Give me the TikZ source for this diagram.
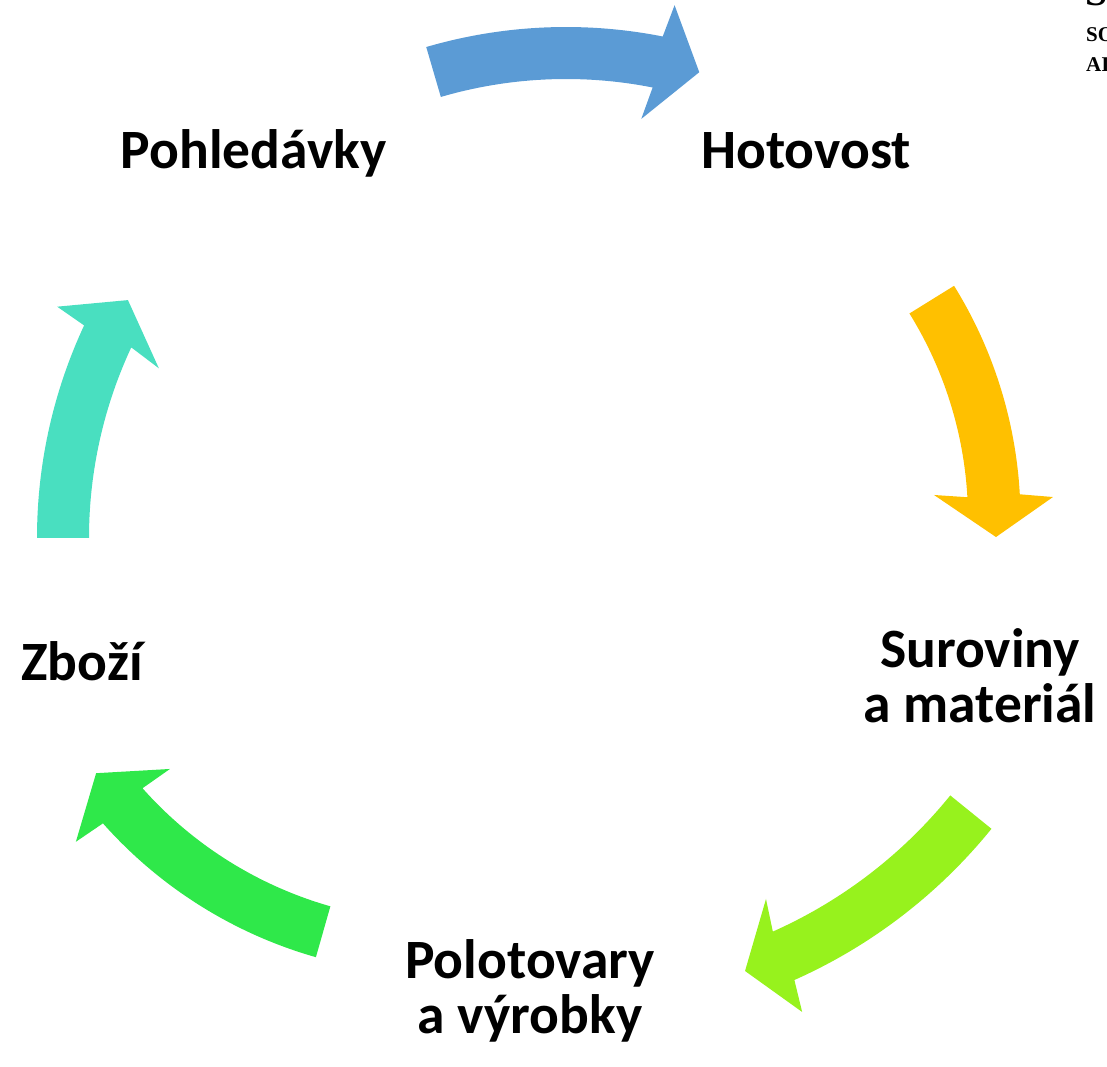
\documentclass[tikz,border=0pt]{standalone}
\usepackage{fontspec}
\setmainfont{Carlito}
\newfontfamily\slabfont{Liberation Serif}
\usetikzlibrary{calc}
\definecolor{cBlue}{HTML}{5B9BD5}
\definecolor{cOrange}{HTML}{FFC000}
\definecolor{cLime}{HTML}{97F21D}
\definecolor{cGreen}{HTML}{2FE84A}
\definecolor{cTeal}{HTML}{49DFC0}
\begin{document}
\begin{tikzpicture}[x=1pt,y=1pt,
  lbl/.style={font=\fontsize{55.5}{55}\selectfont\bfseries, inner sep=0pt, align=center, anchor=base},
  cut/.style={font=\slabfont\bfseries, inner sep=0pt, anchor=base west}]
\useasboundingbox (0,0) rectangle (1107,1066);
\clip (0,0) rectangle (1107,1066);
% centres of the arcs
\coordinate (cB) at (566,541);
\coordinate (cO) at (578,547);
\coordinate (cL) at (578,572);
\coordinate (cG) at (439,541);
\coordinate (cT) at (540,528);
% blue arrow
\fill[cBlue] ($(cB)+(106.3:498pt)$) arc[start angle=106.3, end angle=78.8, radius=498pt]
  -- ($(cB)+(78.2:531pt)$) -- ($(cB)+(73.6:472pt)$) -- ($(cB)+(79.5:413pt)$)
  -- ($(cB)+(78.8:446pt)$) arc[start angle=78.8, end angle=106.3, radius=446pt] -- cycle;
% orange arrow
\fill[cOrange] ($(cO)+(31.8:442.5pt)$) arc[start angle=31.8, end angle=3.2, radius=442.5pt]
  -- ($(cO)+(2.65:475.5pt)$) -- ($(cO)+(-2.47:418.4pt)$) -- ($(cO)+(3.86:356.8pt)$)
  -- ($(cO)+(3.2:390pt)$) arc[start angle=3.2, end angle=31.8, radius=390pt] -- cycle;
% lime arrow
\fill[cLime] ($(cL)+(-39:532pt)$) arc[start angle=-39, end angle=-66, radius=532pt]
  -- ($(cL)+(-66.6:564.4pt)$) -- ($(cL)+(-70.7:505.4pt)$) -- ($(cL)+(-65.1:446.5pt)$)
  -- ($(cL)+(-66:479pt)$) arc[start angle=-66, end angle=-39, radius=479pt] -- cycle;
% green arrow
\fill[cGreen] ($(cG)+(-105.9:449.4pt)$) arc[start angle=-105.9, end angle=-138.4, radius=449.4pt]
  -- ($(cG)+(-138.9:481.9pt)$) -- ($(cG)+(-144.1:423.3pt)$) -- ($(cG)+(-137.8:363.2pt)$)
  -- ($(cG)+(-138.4:396.5pt)$) arc[start angle=-138.4, end angle=-105.9, radius=396.5pt] -- cycle;
% teal arrow
\fill[cTeal] ($(cT)+(180:503pt)$) arc[start angle=180, end angle=155, radius=503pt]
  -- ($(cT)+(154.4:535.4pt)$) -- ($(cT)+(150:475.8pt)$) -- ($(cT)+(156:417.2pt)$)
  -- ($(cT)+(155:451pt)$) arc[start angle=155, end angle=180, radius=451pt] -- cycle;
% labels
\node[lbl] (pohl) at (253.5,897) {Pohledávky};
\node[lbl] (hot) at (806,897) {Hotovost};
\node[lbl] (sur) at (980,344) {Suroviny\\a materiál};
\node[lbl] (pol) at (530,33) {Polotovary\\a výrobky};
\node[lbl] (zb) at (82,385) {Zboží};
% cut-off text at the top right
\node[cut, font=\slabfont\bfseries\fontsize{40}{40}\selectfont] (cutS) at (1085,1060) {S};
\node[cut, font=\slabfont\bfseries\fontsize{21}{21}\selectfont] (cutSO) at (1086,1024) {SO};
\node[cut, font=\slabfont\bfseries\fontsize{21}{21}\selectfont] (cutAI) at (1086,994) {AI};
\end{tikzpicture}
\end{document}
